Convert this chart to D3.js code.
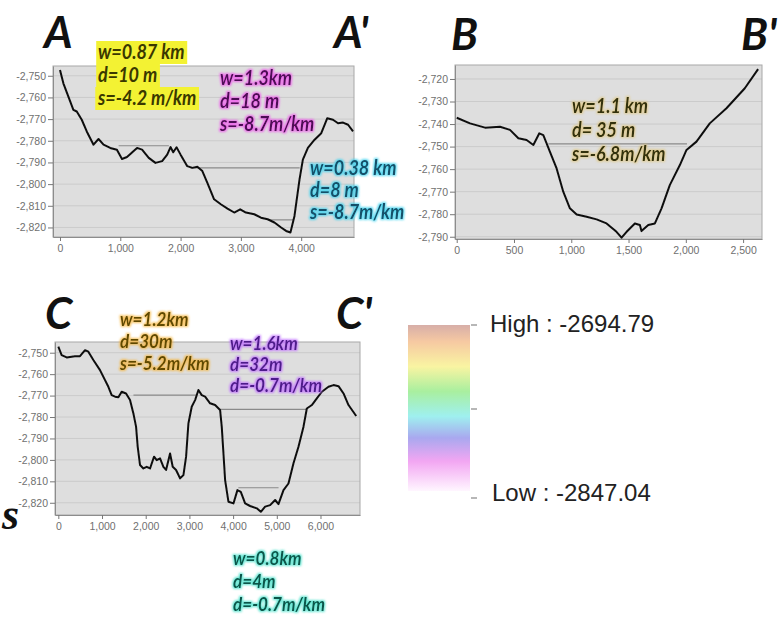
<!DOCTYPE html>
<html>
<head>
<meta charset="utf-8">
<script src="https://cdn.jsdelivr.net/npm/d3@7"></script>
<style>
  body { margin: 0; background: #fff; }
  svg { display: block; }
</style>
</head>
<body>
<div id="chart"></div>
<script>
// chart size
var width = 779;
var height = 627;

// profile A-A' (distance m, elevation m)
var distA = [0, 56, 139, 222, 278, 361, 444, 556, 639, 722, 833, 944, 1028, 1111, 1278, 1361, 1472, 1583, 1694, 1778, 1833, 1878, 1933, 2000, 2111, 2194, 2278, 2361, 2444, 2556, 2667, 2778, 2889, 2989, 3083, 3222, 3333, 3444, 3556, 3667, 3750, 3822, 3889, 3972, 4028, 4111, 4222, 4333, 4433, 4528, 4611, 4694, 4778, 4860];
var elevA = [-2747.4, -2753.5, -2759.6, -2765.7, -2766.5, -2770.3, -2775.7, -2781.8, -2779.2, -2781.8, -2783.3, -2784.1, -2788.4, -2787.5, -2783.3, -2784.1, -2787.9, -2790.2, -2789.4, -2786.4, -2782.9, -2785.3, -2783.0, -2786.4, -2791.7, -2792.5, -2792.0, -2794.0, -2799.4, -2807.0, -2809.3, -2811.3, -2813.1, -2811.6, -2813.1, -2813.9, -2815.5, -2816.2, -2817.7, -2820.0, -2821.6, -2822.3, -2814.7, -2797.9, -2788.7, -2783.3, -2779.5, -2776.5, -2769.6, -2770.3, -2771.9, -2771.6, -2772.6, -2775.7];

// profile B-B'
var distB = [0, 116, 247, 378, 465, 538, 610, 669, 721, 756, 814, 872, 930, 988, 1047, 1134, 1221, 1308, 1395, 1439, 1483, 1555, 1599, 1613, 1672, 1730, 1788, 1860, 1948, 2006, 2093, 2209, 2355, 2515, 2631];
var elevB = [-2737.2, -2739.7, -2741.6, -2741.2, -2742.6, -2746.3, -2747.1, -2749.3, -2744.1, -2744.9, -2752.3, -2759.7, -2770.0, -2777.4, -2780.1, -2781.1, -2782.3, -2784.1, -2787.8, -2790.4, -2787.8, -2784.1, -2784.8, -2787.5, -2784.8, -2784.1, -2777.4, -2767.1, -2758.2, -2751.5, -2747.8, -2739.7, -2733.0, -2724.1, -2715.6];

// profile C-C'
var distC = [0, 76, 191, 382, 496, 611, 687, 802, 954, 1069, 1145, 1221, 1298, 1374, 1450, 1550, 1641, 1718, 1779, 1817, 1870, 1947, 2023, 2099, 2191, 2252, 2328, 2405, 2466, 2557, 2618, 2695, 2786, 2863, 2924, 2977, 3053, 3130, 3206, 3282, 3359, 3473, 3588, 3702, 3740, 3779, 3817, 3893, 4008, 4099, 4176, 4275, 4389, 4542, 4634, 4733, 4847, 4962, 5038, 5153, 5267, 5382, 5496, 5611, 5687, 5802, 5916, 6031, 6183, 6298, 6412, 6527, 6641, 6817];
var elevC = [-2747.2, -2751.1, -2752.2, -2751.6, -2751.6, -2748.8, -2749.5, -2753.4, -2758.1, -2762.8, -2765.9, -2769.8, -2770.5, -2770.8, -2768.2, -2769.0, -2772.1, -2778.3, -2784.5, -2793.9, -2802.4, -2804.0, -2803.2, -2804.0, -2798.5, -2800.1, -2799.3, -2803.2, -2804.7, -2797.0, -2803.2, -2804.7, -2808.6, -2807.1, -2798.5, -2783.0, -2775.2, -2772.1, -2767.4, -2769.8, -2770.5, -2773.6, -2774.4, -2776.7, -2784.5, -2797.0, -2809.4, -2819.5, -2820.3, -2814.1, -2814.9, -2820.3, -2821.5, -2822.6, -2824.2, -2821.8, -2821.1, -2818.7, -2820.6, -2814.1, -2811.0, -2801.6, -2793.9, -2784.5, -2776.0, -2774.4, -2771.3, -2768.2, -2765.9, -2765.1, -2765.6, -2769.0, -2774.4, -2779.5];

// channel rim levels drawn across each depression
var levelsA = [
  { from: 972, to: 1806, elev: -2782.3 },
  { from: 2170, to: 3975, elev: -2792.5 },
  { from: 3470, to: 3880, elev: -2816.5 }
];
var levelsB = [
  { from: 800, to: 2010, elev: -2748.8 }
];
var levelsC = [
  { from: 1720, to: 3160, elev: -2769.8 },
  { from: 3700, to: 5690, elev: -2776.4 },
  { from: 4120, to: 5040, elev: -2813.0 }
];

// tick values
var xTicksA = [0, 1000, 2000, 3000, 4000];
var yTicksA = [-2820, -2810, -2800, -2790, -2780, -2770, -2760, -2750];
var xTicksB = [0, 500, 1000, 1500, 2000, 2500];
var yTicksB = [-2790, -2780, -2770, -2760, -2750, -2740, -2730, -2720];
var xTicksC = [0, 1000, 2000, 3000, 4000, 5000, 6000];
var yTicksC = [-2820, -2810, -2800, -2790, -2780, -2770, -2760, -2750];

// annotation texts
var noteA1 = ["w=0.87 km", "d=10 m", "s=-4.2 m/km"];
var noteA2 = ["w=1.3km", "d=18 m", "s=-8.7m/km"];
var noteA3 = ["w=0.38 km", "d=8 m", "s=-8.7m/km"];
var noteB1 = ["w=1.1 km", "d= 35 m", "s=-6.8m/km"];
var noteC1 = ["w=1.2km", "d=30m", "s=-5.2m/km"];
var noteC2 = ["w=1.6km", "d=32m", "d=-0.7m/km"];
var noteC3 = ["w=0.8km", "d=4m", "d=-0.7m/km"];

// legend
var legendHigh = -2694.79;
var legendLow = -2847.04;

var svg = d3
  .select("#chart")
  .append("svg")
  .attr("width", width)
  .attr("height", height)
  .style("background", "#fff");

var defs = svg.append("defs");

// soft coloured halo behind the annotation text
function glow(id, color, strength) {
  var f = defs.append("filter").attr("id", id)
    .attr("x", "-10%").attr("y", "-40%").attr("width", "120%").attr("height", "180%");
  f.append("feMorphology").attr("in", "SourceAlpha").attr("operator", "dilate").attr("radius", 1).attr("result", "d");
  f.append("feGaussianBlur").attr("in", "d").attr("stdDeviation", 1.3).attr("result", "b");
  f.append("feFlood").attr("flood-color", color).attr("flood-opacity", strength).attr("result", "c");
  f.append("feComposite").attr("in", "c").attr("in2", "b").attr("operator", "in").attr("result", "g");
  var m = f.append("feMerge");
  m.append("feMergeNode").attr("in", "g");
  m.append("feMergeNode").attr("in", "SourceGraphic");
}
glow("gMagenta", "#ee5fec", 0.9);
glow("gCyan", "#3fd3f0", 0.85);
glow("gGold", "#e0c060", 0.55);
glow("gOrange", "#f5b43a", 0.8);
glow("gViolet", "#c070ff", 0.85);
glow("gTeal", "#3fe0c8", 0.8);

defs.append("filter").attr("id", "soft")
  .append("feGaussianBlur").attr("stdDeviation", 0.35);

var locale = d3.formatLocale({ decimal: ".", thousands: ",", grouping: [3], currency: ["", ""], minus: "-" });
var fmt = locale.format(",");

var panels = [
  { dist: distA, elev: elevA, levels: levelsA, xTicks: xTicksA, yTicks: yTicksA,
    left: 53, right: 354, top: 66, bottom: 237, xDom: [-116, 4876], yDom: [-2824.4, -2745.5] },
  { dist: distB, elev: elevB, levels: levelsB, xTicks: xTicksB, yTicks: yTicksB,
    left: 455, right: 762, top: 65, bottom: 239, xDom: [-15, 2665], yDom: [-2791.0, -2713.8] },
  { dist: distC, elev: elevC, levels: levelsC, xTicks: xTicksC, yTicks: yTicksC,
    left: 55, right: 360, top: 342, bottom: 515, xDom: [-76, 6904], yDom: [-2825.7, -2745.0] }
];

panels.forEach(function(p) {
  var x = d3.scaleLinear().domain(p.xDom).range([p.left, p.right]);
  var y = d3.scaleLinear().domain(p.yDom).range([p.bottom, p.top]);
  var g = svg.append("g");

  // plot background
  g.append("rect")
    .attr("x", p.left).attr("y", p.top)
    .attr("width", p.right - p.left).attr("height", p.bottom - p.top)
    .attr("fill", "#dedede");

  // gridlines
  g.selectAll(".grid")
    .data(p.yTicks)
    .enter()
    .append("line")
    .attr("x1", p.left).attr("x2", p.right)
    .attr("y1", function(d) { return y(d); })
    .attr("y2", function(d) { return y(d); })
    .attr("stroke", "#cbcbcb")
    .attr("stroke-width", 1);

  g.append("rect")
    .attr("x", p.left).attr("y", p.top)
    .attr("width", p.right - p.left).attr("height", p.bottom - p.top)
    .attr("fill", "none")
    .attr("stroke", "#a8a8a8");

  // rim levels
  g.selectAll(".level")
    .data(p.levels)
    .enter()
    .append("line")
    .attr("x1", function(d) { return x(d.from); })
    .attr("x2", function(d) { return x(d.to); })
    .attr("y1", function(d) { return y(d.elev); })
    .attr("y2", function(d) { return y(d.elev); })
    .attr("stroke", "#8a8a8a")
    .attr("stroke-width", 1.2);

  // axes
  var yAxis = g.append("g")
    .attr("transform", "translate(" + p.left + ",0)")
    .call(d3.axisLeft(y).tickValues(p.yTicks).tickFormat(fmt).tickSize(5).tickPadding(2).tickSizeOuter(0));
  var xAxis = g.append("g")
    .attr("transform", "translate(0," + p.bottom + ")")
    .call(d3.axisBottom(x).tickValues(p.xTicks).tickFormat(fmt).tickSize(4).tickPadding(4).tickSizeOuter(0));
  [yAxis, xAxis].forEach(function(a) {
    a.select(".domain").attr("stroke", "#8c8c8c");
    a.selectAll(".tick line").attr("stroke", "#777");
    a.selectAll(".tick text")
      .attr("fill", "#707070")
      .style("font-family", "'Liberation Sans', Arial, sans-serif")
      .style("font-size", "10.5px");
  });

  // profile line
  var pts = p.dist.map(function(d, i) { return [d, p.elev[i]]; });
  g.append("path")
    .datum(pts)
    .attr("d", d3.line().x(function(d) { return x(d[0]); }).y(function(d) { return y(d[1]); }))
    .attr("fill", "none")
    .attr("stroke", "#111")
    .attr("stroke-width", 2)
    .attr("stroke-linejoin", "round")
    .attr("filter", "url(#soft)");
});

// big section letters
var letters = [
  { t: "A", x: 44, y: 48 }, { t: "A'", x: 334, y: 48 },
  { t: "B", x: 451, y: 50 }, { t: "B'", x: 741, y: 50 },
  { t: "C", x: 45, y: 329 }, { t: "C'", x: 336, y: 329 }
];
svg.selectAll(".letter")
  .data(letters)
  .enter()
  .append("text")
  .attr("x", function(d) { return d.x; })
  .attr("y", function(d) { return d.y; })
  .text(function(d) { return d.t; })
  .style("font-family", "Lato, 'Open Sans', sans-serif")
  .style("font-weight", "700")
  .style("font-style", "italic")
  .style("font-size", "44px")
  .attr("fill", "#111");

svg.append("text")
  .attr("x", 2).attr("y", 529)
  .text("s")
  .style("font-family", "'Liberation Serif', 'DejaVu Serif', serif")
  .style("font-weight", "700")
  .style("font-style", "italic")
  .style("font-size", "44px")
  .attr("fill", "#111");

// annotation blocks (slightly condensed to mimic the narrow face)
function note(lines, x0, y0, step, size, color, filter, highlight) {
  var g = svg.append("g")
    .attr("transform", "translate(" + x0 + ",0) scale(0.9,1)");
  var texts = g.selectAll("text")
    .data(lines)
    .enter()
    .append("text")
    .attr("x", 0)
    .attr("y", function(d, i) { return y0 + i * step; })
    .text(function(d) { return d; })
    .style("font-family", "Lato, 'Open Sans', sans-serif")
    .style("font-weight", "700")
    .style("font-style", "italic")
    .style("font-size", size + "px")
    .attr("fill", color);
  if (filter) texts.attr("filter", "url(#" + filter + ")");
  if (highlight) {
    texts.each(function(d, i) {
      var b = this.getBBox();
      g.insert("rect", "text")
        .attr("x", b.x - 2).attr("y", y0 + i * step - step + 5)
        .attr("width", b.width + 5).attr("height", step)
        .attr("fill", highlight);
    });
  }
}

note(noteA1, 98, 59, 23, 20, "#3a3800", null, "#f3f233");
note(noteA2, 220, 85, 23, 20, "#4e0c55", "gMagenta");
note(noteA3, 310, 175, 22, 20, "#134f69", "gCyan");
note(noteB1, 572, 113, 24, 20, "#33300c", "gGold");
note(noteC1, 120, 326, 22, 19, "#5f4a05", "gOrange");
note(noteC2, 230, 350, 21, 19, "#4e1a8a", "gViolet");
note(noteC3, 233, 565, 23, 19, "#0b5548", "gTeal");

// legend colour ramp
var grad = defs.append("linearGradient").attr("id", "ramp")
  .attr("x1", 0).attr("y1", 0).attr("x2", 0).attr("y2", 1);
var stops = [
  [0, "#d7aea8"], [0.1, "#f6c9a2"], [0.25, "#f9f4a2"], [0.4, "#a9ef9f"],
  [0.55, "#9ff0ef"], [0.68, "#a9a8ef"], [0.82, "#f2a6f2"], [1, "#fff6ff"]
];
stops.forEach(function(s) {
  grad.append("stop").attr("offset", s[0]).attr("stop-color", s[1]);
});
svg.append("rect")
  .attr("x", 408).attr("y", 325)
  .attr("width", 62).attr("height", 166)
  .attr("fill", "url(#ramp)")
  .attr("filter", "url(#soft)");

svg.selectAll(".ltick")
  .data([325, 409, 498])
  .enter()
  .append("line")
  .attr("x1", 471).attr("x2", 477)
  .attr("y1", function(d) { return d; })
  .attr("y2", function(d) { return d; })
  .attr("stroke", "#888")
  .attr("stroke-width", 1.2);

svg.append("text")
  .attr("x", 490).attr("y", 332)
  .text("High : " + legendHigh)
  .style("font-family", "'Liberation Sans', Arial, sans-serif")
  .style("font-size", "24px")
  .attr("fill", "#222");
svg.append("text")
  .attr("x", 492).attr("y", 501)
  .text("Low : " + legendLow)
  .style("font-family", "'Liberation Sans', Arial, sans-serif")
  .style("font-size", "24px")
  .attr("fill", "#222");
</script>
</body>
</html>
